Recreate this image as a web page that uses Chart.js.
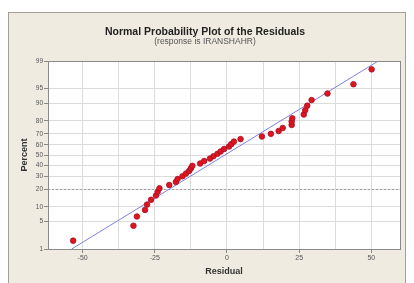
<!DOCTYPE html>
<html>
<head>
<meta charset="utf-8">
<script src="https://cdn.jsdelivr.net/npm/chart.js@4/dist/chart.umd.min.js"></script>
<style>
  html, body { margin: 0; padding: 0; background: #fff; }
  #frame {
    position: absolute; left: 8px; top: 12px;
    width: 398px; height: 280px; box-sizing: border-box;
    border: 1px solid #a3a097; background: #efebe1;
  }
  #wrap { position: absolute; left: 0; top: 0; width: 396px; height: 270px; }
</style>
</head>
<body>
<div id="frame"><div id="wrap"><canvas id="c"></canvas></div></div>
<script>
// residuals (sorted) and their percent positions
var residuals = [-53.3, -32.4, -31.2, -28.4, -27.7, -26.3, -24.6, -24.0, -23.4, -20.0,
  -17.7, -17.1, -15.4, -14.2, -13.1, -12.5, -12.0, -9.3, -7.9, -5.9,
  -4.7, -3.3, -2.2, -1.0, 0.7, 1.5, 2.4, 4.7, 12.1, 15.2,
  17.9, 19.3, 22.4, 22.4, 22.6, 26.6, 27.1, 27.8, 29.3, 34.8,
  43.8, 50.1];
var percents = [1.7, 4, 6.4, 8.7, 11, 13.4, 15.8, 18.2, 20.5, 22.9,
  25.2, 27.6, 30, 32.3, 34.7, 37, 39.4, 41.7, 44.1, 46.5,
  48.8, 51.2, 53.5, 55.9, 58.3, 60.6, 63, 65.3, 67.7, 70,
  72.4, 74.8, 77.1, 79.5, 81.8, 84.2, 86.6, 88.9, 91.3, 93.6,
  96, 98.3];
// fitted normal line (two ends)
var fitResiduals = [-53.8, 52.4];
var fitPercents = [1, 99];

var yTickLabels = [1, 5, 10, 20, 30, 40, 50, 60, 70, 80, 90, 95, 99];
var xTickValues = [-50, -37.5, -25, -12.5, 0, 12.5, 25, 37.5, 50];

// inverse normal cdf (Acklam), used as the probability axis transform
function probit(p) {
  var a = [-3.969683028665376e+01, 2.209460984245205e+02, -2.759285104469687e+02, 1.383577518672690e+02, -3.066479806614716e+01, 2.506628277459239e+00];
  var b = [-5.447609879822406e+01, 1.615858368580409e+02, -1.556989798598866e+02, 6.680131188771972e+01, -1.328068155288572e+01];
  var c = [-7.784894002430293e-03, -3.223964580411365e-01, -2.400758277161838e+00, -2.549732539343734e+00, 4.374664141464968e+00, 2.938163982698783e+00];
  var d = [7.784695709041462e-03, 3.224671290700398e-01, 2.445134137142996e+00, 3.754408661907416e+00];
  var pl = 0.02425, q, r;
  if (p < pl) {
    q = Math.sqrt(-2 * Math.log(p));
    return (((((c[0]*q+c[1])*q+c[2])*q+c[3])*q+c[4])*q+c[5]) / ((((d[0]*q+d[1])*q+d[2])*q+d[3])*q+1);
  }
  if (p > 1 - pl) {
    q = Math.sqrt(-2 * Math.log(1 - p));
    return -(((((c[0]*q+c[1])*q+c[2])*q+c[3])*q+c[4])*q+c[5]) / ((((d[0]*q+d[1])*q+d[2])*q+d[3])*q+1);
  }
  q = p - 0.5; r = q * q;
  return (((((a[0]*r+a[1])*r+a[2])*r+a[3])*r+a[4])*r+a[5])*q / (((((b[0]*r+b[1])*r+b[2])*r+b[3])*r+b[4])*r+1);
}
function pz(pct) { return probit(pct / 100); }

var pointData = residuals.map(function (x, i) { return { x: x, y: pz(percents[i]) }; });
var fitData = fitResiduals.map(function (x, i) { return { x: x, y: pz(fitPercents[i]) }; });

var plotBg = {
  id: 'plotBg',
  beforeDraw: function (chart) {
    var a = chart.chartArea, ctx = chart.ctx;
    ctx.save();
    ctx.fillStyle = '#ffffff';
    ctx.fillRect(a.left, a.top, a.right - a.left, a.bottom - a.top);
    ctx.restore();
  },
  beforeDatasetsDraw: function (chart) {
    // dotted reference line at 20 percent
    var a = chart.chartArea, ctx = chart.ctx;
    var y = Math.round(chart.scales.y.getPixelForValue(pz(20))) + 0.5;
    ctx.save();
    ctx.strokeStyle = '#a0a0a0';
    ctx.setLineDash([2, 2]);
    ctx.beginPath();
    ctx.moveTo(a.left, y); ctx.lineTo(a.right, y);
    ctx.stroke();
    ctx.restore();
  },
  afterDraw: function (chart) {
    var a = chart.chartArea, ctx = chart.ctx;
    ctx.save();
    ctx.strokeStyle = '#8a8a8a';
    ctx.lineWidth = 1;
    ctx.strokeRect(Math.round(a.left) + 0.5, Math.round(a.top) + 0.5,
      Math.round(a.right - a.left), Math.round(a.bottom - a.top));
    ctx.restore();
  }
};

var font = 'Liberation Sans';

new Chart(document.getElementById('c'), {
  type: 'scatter',
  data: {
    datasets: [
      {
        data: pointData,
        backgroundColor: '#e0141e',
        borderColor: '#a30f2a',
        borderWidth: 0.8,
        pointRadius: 2.8
      },
      {
        data: fitData,
        showLine: true,
        borderColor: '#7f82e0',
        borderWidth: 1,
        pointRadius: 0
      }
    ]
  },
  plugins: [plotBg],
  options: {
    responsive: true,
    maintainAspectRatio: false,
    animation: false,
    layout: { padding: { left: 0, right: 4, top: 0, bottom: 0 } },
    plugins: {
      legend: { display: false },
      tooltip: { enabled: false },
      title: {
        display: true,
        text: 'Normal Probability Plot of the Residuals',
        color: '#222',
        font: { family: font, size: 10.5, weight: 'bold', lineHeight: 1 },
        padding: { top: 13.45, bottom: 0 }
      },
      subtitle: {
        display: true,
        text: '(response is IRANSHAHR)',
        color: '#555',
        font: { family: font, size: 8.5, lineHeight: 1 },
        padding: { top: 0.05, bottom: 15.5 }
      }
    },
    scales: {
      x: {
        type: 'linear',
        min: -62,
        max: 60,
        afterBuildTicks: function (s) { s.ticks = xTickValues.map(function (v) { return { value: v }; }); },
        afterFit: function (s) { s.height = 34; },
        grid: {
          color: '#dcdcdc',
          tickLength: 4,
          tickColor: function (ctx) { return ctx.tick && ctx.tick.value % 25 === 0 ? '#888' : 'rgba(0,0,0,0)'; }
        },
        border: { display: false },
        ticks: {
          autoSkip: false,
          maxRotation: 0,
          padding: 1,
          color: '#555',
          font: { family: font, size: 7 },
          callback: function (v) { return v % 25 === 0 ? String(v) : ''; }
        },
        title: {
          display: true,
          text: 'Residual',
          color: '#333',
          font: { family: font, size: 9, weight: 'bold' },
          padding: { top: 0, bottom: 5.9 }
        }
      },
      y: {
        type: 'linear',
        min: pz(1),
        max: pz(99),
        afterBuildTicks: function (s) { s.ticks = yTickLabels.map(function (p) { return { value: pz(p) }; }); },
        afterFit: function (s) { s.width = 39; },
        grid: { color: '#dcdcdc', tickLength: 4, tickColor: '#888' },
        border: { display: false },
        ticks: {
          autoSkip: false,
          padding: 1,
          color: '#555',
          font: { family: font, size: 6.5 },
          callback: function (v, i) { return String(yTickLabels[i]); }
        },
        title: {
          display: true,
          text: 'Percent',
          color: '#333',
          font: { family: font, size: 9, weight: 'bold' },
          padding: { top: 10.6, bottom: 0 }
        }
      }
    }
  }
});
</script>
</body>
</html>
